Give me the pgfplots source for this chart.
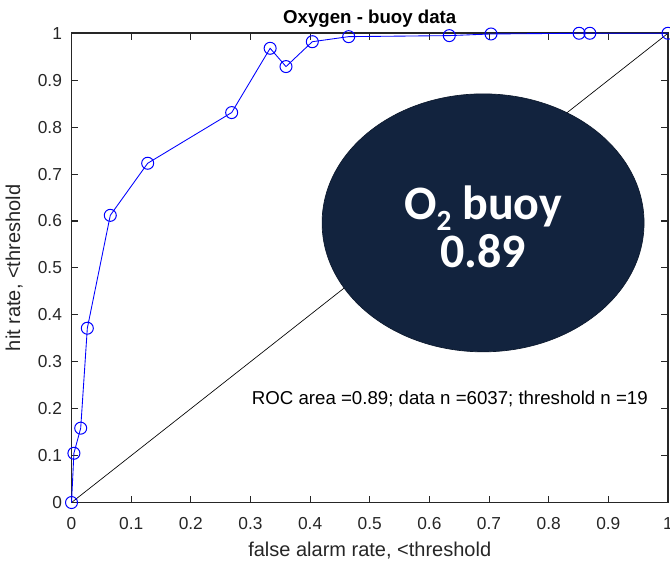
\documentclass[border=0pt]{standalone}
\usepackage{pgfplots}
\pgfplotsset{compat=1.18}
\usepackage{fontspec}
\setmainfont{Liberation Sans}
\newfontfamily\carlito{Carlito}
\definecolor{navy}{RGB}{18,35,62}
\definecolor{navyedge}{RGB}{12,25,45}
\definecolor{axgray}{RGB}{38,38,38}
\definecolor{mblue}{RGB}{0,0,255}
\begin{document}
\begin{tikzpicture}
\begin{axis}[
  scale only axis,
  width=447.4pt, height=352pt,
  xmin=0, xmax=1, ymin=0, ymax=1,
  xtick={0,0.1,...,1.0}, ytick={0,0.1,...,1.0},
  xticklabels={0,0.1,0.2,0.3,0.4,0.5,0.6,0.7,0.8,0.9,1},
  yticklabels={0,0.1,0.2,0.3,0.4,0.5,0.6,0.7,0.8,0.9,1},
  tick align=inside,
  major tick length=5pt,
  every tick/.style={axgray, line width=0.8pt},
  axis line style={axgray, line width=1.3pt},
  tick label style={font=\fontsize{13}{13}\selectfont, text=axgray},
  /pgf/number format/assume math mode=true,
  xticklabel style={anchor=north, inner sep=0pt, yshift=-11pt},
  yticklabel style={anchor=east, inner sep=0pt, xshift=-7pt},
  xlabel={false alarm rate, <threshold},
  ylabel={hit rate, <threshold},
  label style={font=\fontsize{15}{15}\selectfont, text=axgray},
  xlabel style={at={(axis description cs:0.5,0)}, anchor=base, yshift=-40.7pt},
  ylabel style={at={(axis description cs:-0.0961,0.5)}, anchor=center},
  title={Oxygen - buoy data},
  title style={font=\bfseries\fontsize{14}{14}\selectfont, at={(axis description cs:0.5,1)}, anchor=base, yshift=1.5pt},
  clip=false,
]
\addplot[black, line width=0.5pt] coordinates {(0,0) (1,1)};
\addplot[mblue, line width=0.65pt, mark=o, mark size=4.5pt, mark options={line width=0.75pt}] coordinates {
(0,0)
(0.004,0.105)
(0.0154,0.1585)
(0.0265,0.3715)
(0.065,0.612)
(0.1277,0.723)
(0.2685,0.831)
(0.333,0.968)
(0.3596,0.929)
(0.4037,0.982)
(0.4647,0.9928)
(0.6334,0.995)
(0.7033,0.9985)
(0.851,1.0)
(0.869,1.0)
(1,1)
};
\node[anchor=base west, font=\fontsize{14}{14}\selectfont, inner sep=0pt] at (axis cs:0.302,0.208) {ROC area =0.89; data n =6037; threshold n =19};
\filldraw[fill=navy, draw=navyedge, line width=0.5pt] (axis cs:0.690,0.596) ellipse [x radius=120.75pt, y radius=96.75pt];
\node[align=center, text=white, font=\carlito\bfseries\fontsize{36}{35.5}\selectfont, inner sep=0pt, yshift=-3pt] at (axis cs:0.690,0.596) {O\raisebox{-0.22em}{\fontsize{22}{22}\selectfont 2} buoy\\0.89};
\coordinate (bbl) at (rel axis cs:-0.1199,-0.1285);
\coordinate (btr) at (rel axis cs:1.0034,1.0709);
\end{axis}
\pgfresetboundingbox
\useasboundingbox (bbl) rectangle (btr);
\end{tikzpicture}
\end{document}
